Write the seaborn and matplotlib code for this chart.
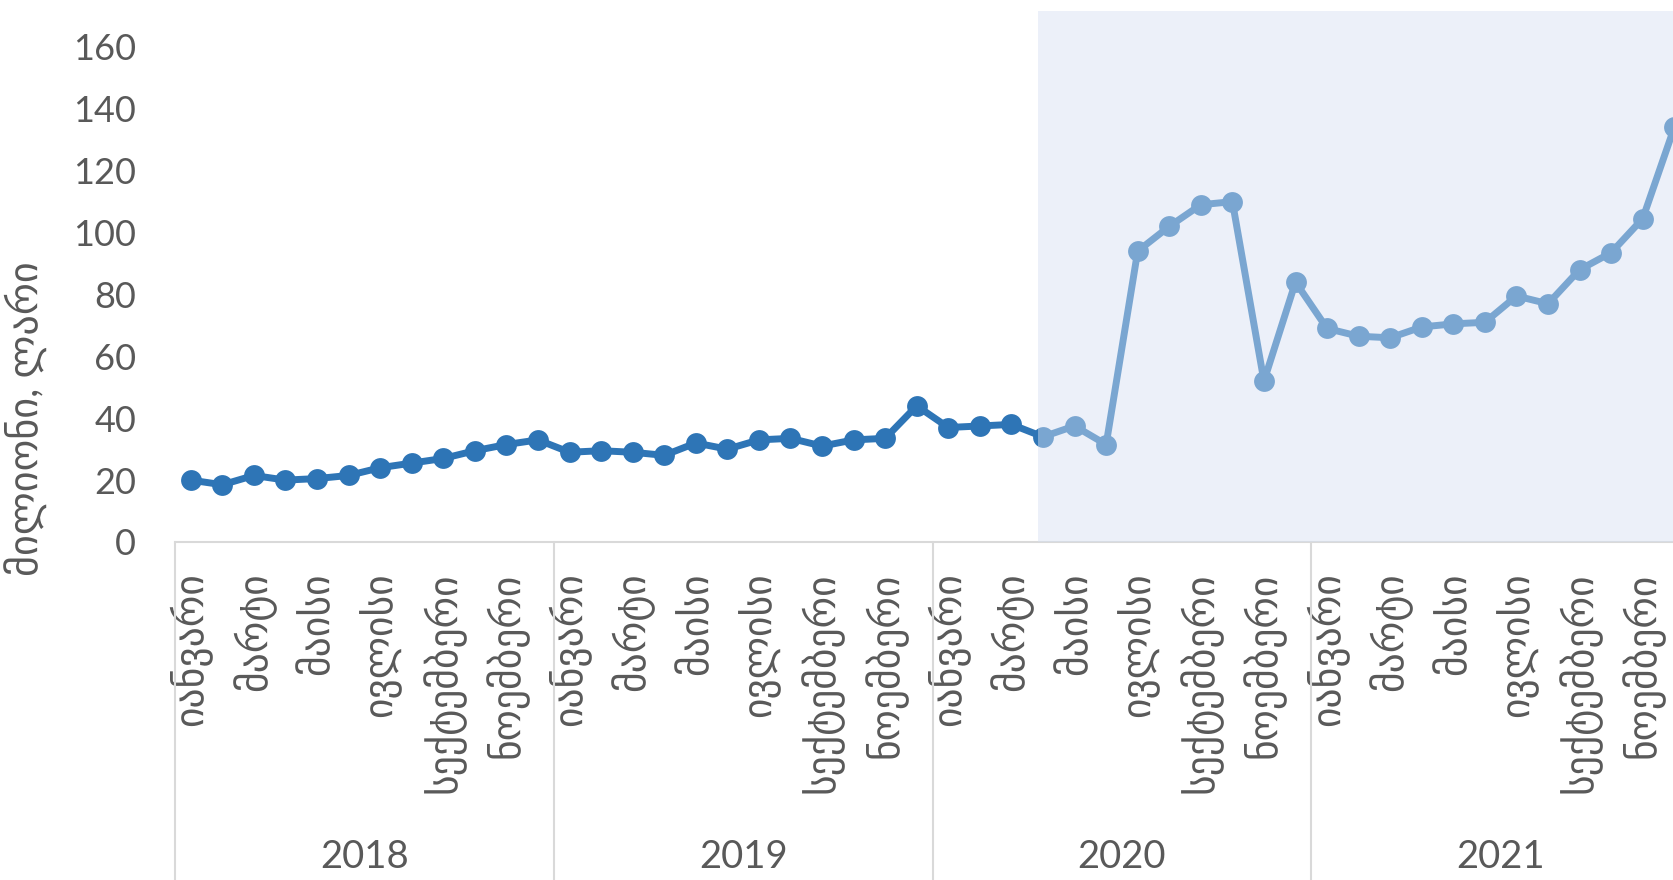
import matplotlib
matplotlib.use('Agg')
import matplotlib.pyplot as plt
import matplotlib.transforms as mtransforms
import seaborn as sns
import pandas as pd
import numpy as np

# monthly values, Jan 2018 - Dec 2021 (million GEL)
years = ['2018', '2019', '2020', '2021']
months = ['იანვარი', 'თებერვალი', 'მარტი', 'აპრილი', 'მაისი', 'ივნისი',
          'ივლისი', 'აგვისტო', 'სექტემბერი', 'ოქტომბერი', 'ნოემბერი', 'დეკემბერი']
v2018 = [20, 18.5, 21.5, 20, 20.5, 21.5, 24, 25.5, 27, 29.5, 31.5, 33]
v2019 = [29, 29.5, 29, 28, 32, 30, 33, 33.5, 31, 33, 33.5, 44]
v2020 = [37, 37.5, 38, 34, 37.5, 31.5, 94, 102, 109, 110, 52, 84]
v2021 = [69, 66.5, 66, 69.5, 70.5, 71, 79.5, 77, 88, 93.5, 104.5, 134]
y_label = 'მილიონი, ლარი'

values = v2018 + v2019 + v2020 + v2021
df = pd.DataFrame({'idx': np.arange(len(values)), 'value': values})

sns.set_theme(style='white')
plt.rcParams['font.family'] = ['Lato', 'DejaVu Sans']

txt = '#595959'
grid = '#D9D9D9'

fig = plt.figure(figsize=(16.73, 8.8), dpi=100)
ax = fig.add_axes([0.1046, 0.3841, 0.9056, 0.603])

sns.lineplot(data=df, x='idx', y='value', ax=ax, color='#2E75B6',
             linewidth=5, marker='o', markersize=15, markeredgewidth=0,
             zorder=3)

# shaded period (semi-transparent, over the line so it lightens it)
ax.axvspan(26.85, 47.5, color='#D6E0F2', alpha=0.46, lw=0, zorder=5)

ax.set_xlim(-0.5, 47.5)
ax.set_ylim(0, 171.5)
ax.set_yticks(range(0, 161, 20))
ax.tick_params(axis='y', length=0, pad=28, labelsize=26, labelcolor=txt)

for s in ['top', 'right', 'left']:
    ax.spines[s].set_visible(False)
ax.spines['bottom'].set_color(grid)
ax.spines['bottom'].set_linewidth(1.5)

# month ticks every other month
tick_pos = [i for i in range(48) if i % 2 == 0]
ax.set_xticks(tick_pos)
ax.set_xticklabels([months[i % 12] for i in tick_pos], rotation=90,
                   va='top', ha='center', fontsize=28.5, color=txt)
ax.tick_params(axis='x', length=0, pad=22)
ax.set_xlabel('')

ax.set_ylabel(y_label, fontsize=29, color=txt)
ax.yaxis.set_label_coords(-0.084, 0.232)

# year dividers and labels
trans = mtransforms.blended_transform_factory(ax.transData, fig.transFigure)
for k, yr in enumerate(years):
    ax.plot([k * 12 - 0.5, k * 12 - 0.5], [0.3841, 0], transform=trans,
            color=grid, lw=1.5, clip_on=False)
    ax.text(k * 12 + 5.5, 1 - 857 / 880, yr, transform=trans, ha='center',
            va='center', fontsize=27.5, color=txt)

fig.savefig('out.png', dpi=100)
